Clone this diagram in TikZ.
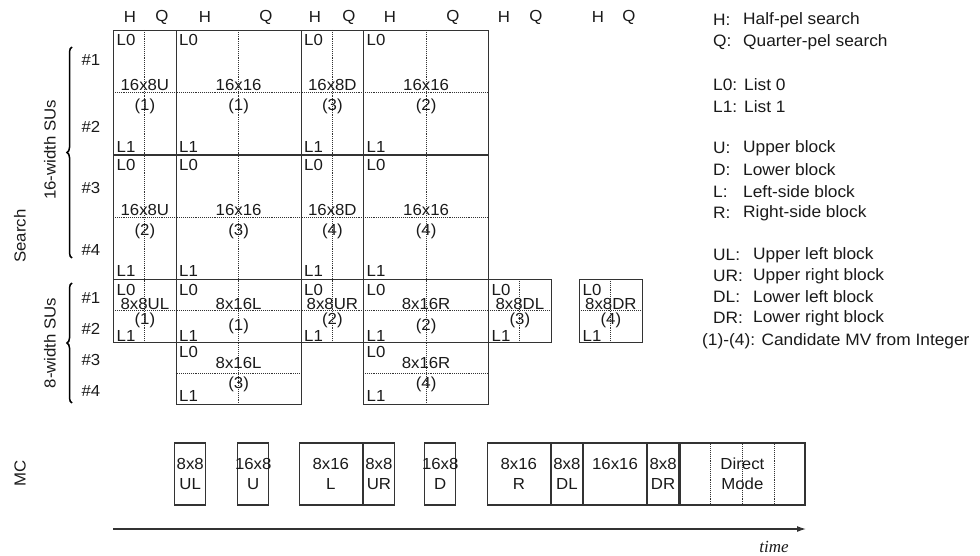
\documentclass[tikz,border=0pt]{standalone}
\usepackage{fontspec}
\setmainfont{Liberation Sans}[FakeStretch=1.05]
\newfontfamily\timefont{Liberation Serif}
\usetikzlibrary{arrows.meta,calc,decorations.pathreplacing,positioning}
\definecolor{mvline}{HTML}{333333}
\definecolor{mvtext}{HTML}{1A1A1A}
\newcommand{\mcfit}[1]{\makebox[0pt][c]{#1}}
\tikzset{
  cell/.style={rectangle,draw=mvline,line width=1.2pt,inner sep=0pt,anchor=north west},
  split/.style={draw=mvline,densely dotted,line width=.9pt},
  txt/.style={font=\fontsize{16}{19}\selectfont,text=mvtext,inner sep=0pt},
  corner/.style={txt,anchor=west},
  side/.style={txt,rotate=90},
  legend/.style={font=\fontsize{16.5}{20}\selectfont,text=mvtext,inner sep=0pt,anchor=west},
  mcbox/.style={rectangle,draw=mvline,line width=1.2pt,inner sep=0pt,minimum height=62pt,anchor=west,align=center,font=\fontsize{16}{20}\selectfont,text=mvtext},
  brace/.style={draw=black,line width=1.5pt,decorate,decoration={brace,amplitude=5pt}},
}

\begin{document}
\begin{tikzpicture}[x=1pt,y=-1pt]
  \useasboundingbox (0,0) rectangle (980,556);

  % ---- H / Q headings ----
  \foreach \hx/\qx [count=\n] in {130/162, 205/266, 315/349, 390/453, 504/536, 598/629}{
    \node[txt] (hh\n) at (\hx,17) {H};
    \node[txt] (qq\n) at (\qx,17) {Q};
  }

  % ---- 16-width SUs ----
  \foreach \nm/\cx/\ty/\w/\sz/\mv in {a1/113/30/62.5/16x8U/(1), b1/175.5/30/125/16x16/(1),
      c1/300.5/30/62.5/16x8D/(3), d1/363/30/125/16x16/(2),
      a2/113/154.5/62.5/16x8U/(2), b2/175.5/154.5/125/16x16/(3),
      c2/300.5/154.5/62.5/16x8D/(4), d2/363/154.5/125/16x16/(4)}{
    \node[cell,minimum width=\w pt,minimum height=124.5pt] (\nm) at (\cx,\ty) {};
    \draw[split] (\nm.north) -- (\nm.south);
    \draw[split] (\nm.west) -- (\nm.east);
    \node[corner] (\nm-l0) at ([shift={(3.5,10)}]\nm.north west) {L0};
    \node[corner] (\nm-l1) at ([shift={(3.5,-9)}]\nm.south west) {L1};
    \node[txt] (\nm-sz) at ([shift={(0,-7.5)}]\nm.center) {\sz};
    \node[txt] (\nm-mv) at ([shift={(0,14)}]\nm.center) {\mv};
  }

  % ---- 8-width SUs, #1-#2 ----
  \foreach \nm/\cx/\w/\sz/\mv/\dy in {e/113/62.5/8x8UL/(1)/9.5, f/175.5/125/8x16L/(1)/16,
      g/300.5/62.5/8x8UR/(2)/9.5, h/363/125/8x16R/(2)/16,
      i/488/62.5/8x8DL/(3)/9.5, j/579/62.5/8x8DR/(4)/9.5}{
    \node[cell,minimum width=\w pt,minimum height=62.5pt] (\nm) at (\cx,279) {};
    \draw[split] (\nm.north) -- (\nm.south);
    \draw[split] (\nm.west) -- (\nm.east);
    \node[corner] (\nm-l0) at ([shift={(3.5,11)}]\nm.north west) {L0};
    \node[corner] (\nm-l1) at ([shift={(3.5,-7)}]\nm.south west) {L1};
    \node[txt] (\nm-sz) at ([shift={(0,-6.5)}]\nm.center) {\sz};
    \node[txt] (\nm-mv) at ([shift={(0,\dy)}]\nm.center) {\mv};
  }

  % ---- 8-width SUs, #3-#4 ----
  \foreach \nm/\cx/\sz/\mv in {k/175.5/8x16L/(3), l/363/8x16R/(4)}{
    \node[cell,minimum width=125pt,minimum height=62.5pt] (\nm) at (\cx,341.5) {};
    \draw[split] (\nm.north) -- (\nm.south);
    \draw[split] (\nm.west) -- (\nm.east);
    \node[corner] (\nm-l0) at ([shift={(3.5,10)}]\nm.north west) {L0};
    \node[corner] (\nm-l1) at ([shift={(3.5,-9)}]\nm.south west) {L1};
    \node[txt] (\nm-sz) at ([shift={(0,-10)}]\nm.center) {\sz};
    \node[txt] (\nm-mv) at ([shift={(0,11)}]\nm.center) {\mv};
  }

  % ---- row numbers, braces, side titles ----
  \foreach \lbl/\ly [count=\n] in {\#1/60, \#2/127, \#3/188, \#4/250, \#1/298, \#2/329, \#3/360, \#4/391}{
    \node[txt] (su\n) at (91,\ly) {\lbl};
  }
  \coordinate (bt16) at (72,47);
  \coordinate (bb16) at (72,258);
  \coordinate (bt8) at (72,283);
  \coordinate (bb8) at (72,403);
  \draw[brace] (bb16) -- (bt16);
  \draw[brace] (bb8) -- (bt8);
  \node[side] (w16) at (50,150) {16-width SUs};
  \node[side] (w8) at (50,343) {8-width SUs};
  \node[side] (srch) at (20,236) {Search};
  \node[side] (mc) at (20,473) {MC};

  % ---- MC row ----
  \node[mcbox,minimum width=31.25pt] (mul) at (174,474) {8x8\\UL};
  \node[mcbox,minimum width=31.25pt] (mu) at (237,474) {\mcfit{16x8}\\U};
  \node[mcbox,minimum width=62.5pt] (ml) at (299,474) {8x16\\L};
  \node[mcbox,minimum width=31.25pt,right=0pt of ml] (mur) {8x8\\UR};
  \node[mcbox,minimum width=31.25pt] (md) at (424,474) {\mcfit{16x8}\\D};
  \node[mcbox,minimum width=62.5pt] (mr) at (487,474) {8x16\\R};
  \node[mcbox,minimum width=31.25pt,right=0pt of mr] (mdl) {8x8\\DL};
  \node[mcbox,minimum width=62.5pt,right=0pt of mdl] (m16) {16x16\\\mbox{}};
  \node[mcbox,minimum width=31.25pt,right=0pt of m16] (mdr) {8x8\\DR};
  \node[mcbox,minimum width=125pt,right=0pt of mdr] (mdir) {Direct\\Mode};
  \foreach \f in {0.25,0.5,0.75}{
    \draw[split] ($(mdir.north west)!\f!(mdir.north east)$) -- ($(mdir.south west)!\f!(mdir.south east)$);
  }

  % ---- time axis ----
  \coordinate (t0) at (113,529);
  \coordinate (t1) at (806,529);
  \draw[mvline,line width=1.2pt,-{Latex[length=9pt,width=6pt]}] (t0) -- (t1);
  \node[font=\timefont\itshape\fontsize{17}{20}\selectfont,text=mvtext,inner sep=0pt] (tlbl) at (774,547) {time};

  % ---- legend ----
  \foreach \key/\desc/\ly/\dx [count=\n] in {H:/Half-pel search/20/743, Q:/Quarter-pel search/42/743,
      L0:/List 0/85/744, L1:/List 1/107/744,
      U:/Upper block/148/743, D:/Lower block/170/743, L:/Left-side block/192/743, R:/Right-side block/213/743,
      UL:/Upper left block/255/753, UR:/Upper right block/276/753, DL:/Lower left block/297/753, DR:/Lower right block/318/753}{
    \node[legend] (key\n) at (713,\ly) {\key};
    \node[legend] (desc\n) at (\dx,\ly) {\desc};
  }
  \node[legend] (cand) at (702,341) {(1)-(4): Candidate MV from Integer};
\end{tikzpicture}
\end{document}
